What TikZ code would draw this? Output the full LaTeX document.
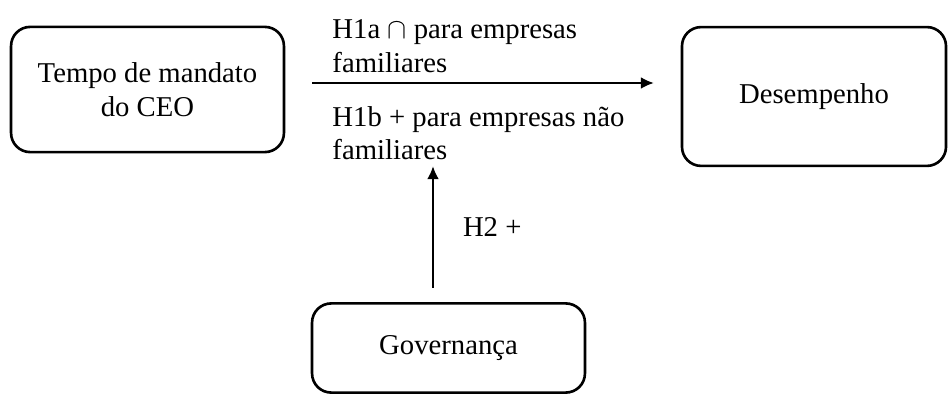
\documentclass[tikz,border=0pt]{standalone}
\usepackage{fontspec}
\setmainfont{Liberation Serif}
\usetikzlibrary{arrows.meta}

\tikzset{
  caixa/.style={draw,line width=1.1pt,rounded corners=8pt,align=center,inner sep=0pt},
  rotulo/.style={align=left,anchor=west,inner sep=0pt},
  seta/.style={-{Latex[length=5.5pt,width=5pt]},line width=1.1pt}
}

\begin{document}
\begin{tikzpicture}[x=0.0147cm,y=-0.0147cm,font=\fontsize{12pt}{14pt}\selectfont]
  \useasboundingbox (0,0) rectangle (948,394);
   \draw (147.5,89.5) node[caixa,minimum width=4.01cm,minimum height=1.84cm] (ceo) {Tempo de mandato\\do CEO};
   \draw (814,96.5) node[caixa,minimum width=3.88cm,minimum height=2.04cm] (desemp) {Desempenho};
   \draw (448.5,348) node[caixa,minimum width=4.01cm,minimum height=1.31cm] (gov) {Governança};

   \coordinate (h1ini) at (312,83);
   \coordinate (h1fim) at (654,83);
   \coordinate (h2ini) at (433,288);
   \coordinate (h2fim) at (433,166);

   \draw (332,46) node[rotulo] (h1a) {H1a $\cap$ para empresas\\familiares};
   \draw (332,133) node[rotulo] (h1b) {H1b + para empresas não\\familiares};

    \path[seta] (h1ini) edge (h1fim);
    \path[seta] (h2ini) edge node[right=12pt,inner sep=0pt] (h2) {H2 +} (h2fim);
\end{tikzpicture}
\end{document}
